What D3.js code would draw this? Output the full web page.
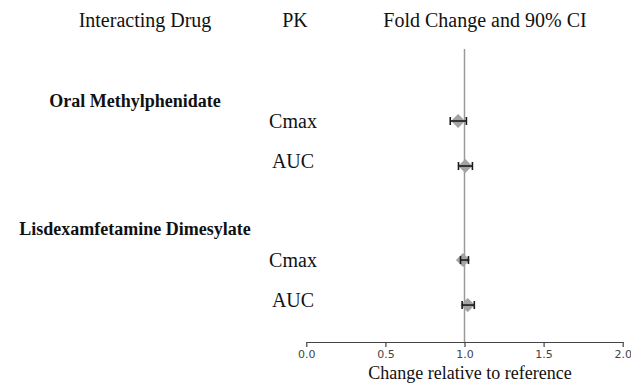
<!DOCTYPE html>
<html>
<head>
<meta charset="utf-8">
<script src="https://cdn.jsdelivr.net/npm/d3@7"></script>
<style>
  html, body { margin: 0; padding: 0; background: #fff; }
  svg { display: block; }
</style>
</head>
<body>
<div id="chart"></div>
<script>
// ---- data ----
const drugs = ["Oral Methylphenidate", "Lisdexamfetamine Dimesylate"];
const pkParams = ["Cmax", "AUC"];
// fold change (point), lower and upper 90% CI, per drug, per PK parameter
const foldChange = [[0.96, 1.005], [0.99, 1.02]];
const ciLower    = [[0.91, 0.962], [0.975, 0.985]];
const ciUpper    = [[1.012, 1.05], [1.025, 1.062]];
const xTicks = [0, 0.5, 1.0, 1.5, 2.0];
const headers = ["Interacting Drug", "PK", "Fold Change and 90% CI"];
const xTitle = "Change relative to reference";

// ---- layout ----
const W = 631, H = 383;
const svg = d3.select("#chart").append("svg").attr("width", W).attr("height", H);

const x = d3.scaleLinear().domain([0, 2]).range([306.3, 622.7]);
// row position scale: one unit = one PK row
const y = d3.scaleLinear().domain([0, 1]).range([121, 166]);
const groupStart = [0, 3.09];
const axisY = 342;

const serif = "'Liberation Serif', 'Times New Roman', serif";

const defs = svg.append("defs");
defs.append("filter").attr("id", "soft")
  .attr("x", "-30%").attr("y", "-30%").attr("width", "160%").attr("height", "160%")
  .append("feGaussianBlur").attr("stdDeviation", 0.7);

// headers
const headerX = [145, 295, 485];
svg.selectAll("text.hdr").data(headers).join("text")
  .attr("class", "hdr")
  .attr("x", (d, i) => headerX[i]).attr("y", 27)
  .attr("text-anchor", "middle")
  .attr("font-family", serif).attr("font-size", 20).attr("fill", "#111")
  .text(d => d);

// reference line at 1.0
svg.append("line")
  .attr("x1", x(1)).attr("x2", x(1))
  .attr("y1", 49).attr("y2", axisY)
  .attr("stroke", "#9a9a9a").attr("stroke-width", 1.5);

// rows
const rows = [];
drugs.forEach((drug, gi) => {
  pkParams.forEach((pk, mi) => {
    rows.push({ drug, pk, gi, mi, pos: groupStart[gi] + mi,
      est: foldChange[gi][mi], lo: ciLower[gi][mi], hi: ciUpper[gi][mi] });
  });
});

// group labels
const labelOffset = [-20, -31];
svg.selectAll("text.grp").data(drugs).join("text")
  .attr("class", "grp")
  .attr("x", 135)
  .attr("y", (d, i) => y(groupStart[i]) + labelOffset[i])
  .attr("dy", "0.35em")
  .attr("text-anchor", "middle")
  .attr("font-family", serif).attr("font-size", 18).attr("font-weight", "bold").attr("fill", "#111")
  .text(d => d);

// PK labels
svg.selectAll("text.pk").data(rows).join("text")
  .attr("class", "pk")
  .attr("x", 293)
  .attr("y", d => y(d.pos) - d.mi * 5)
  .attr("dy", "0.35em")
  .attr("text-anchor", "middle")
  .attr("font-family", serif).attr("font-size", 20).attr("fill", "#111")
  .text(d => d.pk);

// diamonds
const diamond = d3.symbol().type(d3.symbolSquare).size(100);
svg.selectAll("path.pt").data(rows).join("path")
  .attr("class", "pt")
  .attr("d", diamond)
  .attr("transform", d => `translate(${x(d.est)},${y(d.pos)}) rotate(45)`)
  .attr("fill", "#a3a3a3")
  .attr("filter", "url(#soft)");

// error bars
const eb = svg.selectAll("g.eb").data(rows).join("g").attr("class", "eb")
  .attr("stroke", "#1a1a1a").attr("stroke-width", 1.6);
eb.append("line")
  .attr("x1", d => x(d.lo)).attr("x2", d => x(d.hi))
  .attr("y1", d => y(d.pos)).attr("y2", d => y(d.pos));
eb.append("line")
  .attr("x1", d => x(d.lo)).attr("x2", d => x(d.lo))
  .attr("y1", d => y(d.pos) - 4).attr("y2", d => y(d.pos) + 4);
eb.append("line")
  .attr("x1", d => x(d.hi)).attr("x2", d => x(d.hi))
  .attr("y1", d => y(d.pos) - 4).attr("y2", d => y(d.pos) + 4);

// x axis
const axis = svg.append("g").attr("transform", `translate(0,${axisY})`)
  .call(d3.axisBottom(x).tickValues(xTicks).tickFormat(d3.format(".1f")).tickSize(5).tickSizeOuter(0));
axis.select(".domain").attr("stroke", "#444").attr("stroke-width", 1.2);
axis.selectAll(".tick line").attr("stroke", "#444").attr("stroke-width", 1.2);
axis.selectAll(".tick text")
  .attr("font-family", "'DejaVu Sans', sans-serif").attr("font-size", 11)
  .attr("fill", "#444").attr("dy", "0.71em");

svg.append("text")
  .attr("x", 470).attr("y", 379)
  .attr("text-anchor", "middle")
  .attr("font-family", serif).attr("font-size", 18).attr("fill", "#111")
  .text(xTitle);
</script>
</body>
</html>
